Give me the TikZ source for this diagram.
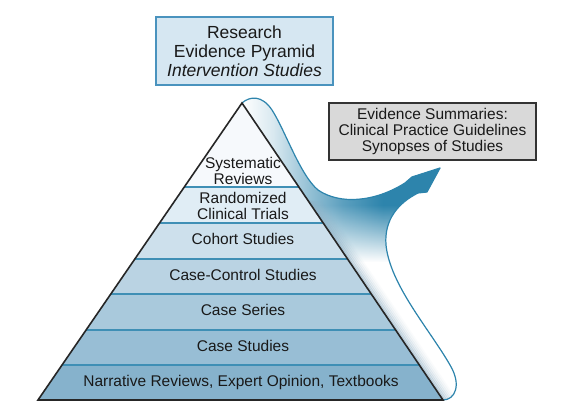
\documentclass[tikz,border=0pt]{standalone}
\usepackage{fontspec}
\setmainfont{Liberation Sans}
\usepackage{tikz}
\usetikzlibrary{calc, fadings}

\definecolor{layA}{HTML}{F6F9FC}
\definecolor{layB}{HTML}{E0EDF5}
\definecolor{layC}{HTML}{CDE0EC}
\definecolor{layD}{HTML}{BAD3E3}
\definecolor{layE}{HTML}{A9C9DC}
\definecolor{layF}{HTML}{98BED5}
\definecolor{layG}{HTML}{86B2CC}
\definecolor{sepblue}{HTML}{3F8FB5}
\definecolor{swoosh}{HTML}{2D84AC}
\definecolor{titlefill}{HTML}{D6E7F2}
\definecolor{titleline}{HTML}{4A93BE}
\definecolor{sumfill}{HTML}{D9D9D9}
\definecolor{shadowblue}{HTML}{8FAFC4}

\pgfdeclarehorizontalshading{curl}{100bp}{color(0bp)=(white); color(25bp)=(white);
  color(32bp)=(swoosh!18); color(40bp)=(swoosh!50); color(48bp)=(swoosh!78);
  color(57bp)=(swoosh); color(100bp)=(swoosh)}

\newcommand{\swooshpath}{(apex) .. controls (250,96) and (262,95) .. (272,110)
  .. controls (285,130) and (300,175) .. (318,190)
  .. controls (340,205) and (375,202) .. (405,183)
  -- (412,177) -- (tip) -- (427,192) -- (418,193)
  .. controls (398,203) and (384,220) .. (386,245)
  .. controls (390,285) and (430,330) .. (450,365)
  .. controls (462,385) and (455,400) .. (br)}

\begin{document}
\begin{tikzpicture}[x=1pt, y=-1pt,
    lbl/.style={font=\fontsize{15.5}{16.5}\selectfont, align=center, text=black!90, inner sep=0pt}]
\useasboundingbox (0,0) rectangle (571,411);
\coordinate (apex) at (242,103);
\coordinate (bl) at (38,400);
\coordinate (br) at (443,400);
\coordinate (tip) at (440,168);

% curl behind the pyramid
\shade[shading=curl] \swooshpath -- cycle;
\begin{scope}
  \clip \swooshpath -- cycle;
  \fill[white, path fading=north] (230,205) rectangle (470,262);
  \fill[white] (230,262) rectangle (470,411);
  \foreach \d/\o in {1/0.45, 3/0.35, 5/0.25, 7/0.18, 9/0.12, 11/0.07, 13/0.04}
    \draw[shadowblue, line width=2.5pt, opacity=\o] ($(apex)!0.33!(br)+(\d,0)$) -- ($(br)+(\d,0)$);
\end{scope}
\fill[swoosh] (405,183) -- (412,177) -- (tip) -- (427,192) -- (418,193) -- cycle;
\draw[swoosh, line width=1.2pt, line join=round] \swooshpath;

% pyramid layers
\foreach \t/\b/\c in {0/0.2828/layA, 0.2828/0.4040/layB, 0.4040/0.5253/layC, 0.5253/0.6431/layD, 0.6431/0.7643/layE, 0.7643/0.8822/layF, 0.8822/1/layG}
  \fill[\c] ($(apex)!\t!(bl)$) -- ($(apex)!\b!(bl)$) -- ($(apex)!\b!(br)$) -- ($(apex)!\t!(br)$) -- cycle;
\foreach \b in {0.2828, 0.4040, 0.5253, 0.6431, 0.7643, 0.8822}
  \draw[sepblue, line width=1.3pt] ($(apex)!\b!(bl)$) -- ($(apex)!\b!(br)$);
\draw[black!85, line width=1.6pt] (apex) -- (bl) -- (br) -- cycle;

\node[lbl] (sys) at (243,171) {Systematic\\Reviews};
\node[lbl] (rct) at (243,206) {Randomized\\Clinical Trials};
\node[lbl, anchor=base] (cohort) at (243,245) {Cohort Studies};
\node[lbl, anchor=base] (casectrl) at (243,280.5) {Case-Control Studies};
\node[lbl, anchor=base] (series) at (243,316) {Case Series};
\node[lbl, anchor=base] (studies) at (243,351.5) {Case Studies};
\node[lbl, anchor=base] (narrative) at (241,387) {Narrative Reviews, Expert Opinion, Textbooks};

\node[draw=titleline, fill=titlefill, line width=1.5pt, minimum width=177pt, minimum height=68pt, inner sep=0pt, align=center, font=\fontsize{17.5}{19}\selectfont, text=black!90] (title) at (244.5,51) {Research\\Evidence Pyramid\\\textit{Intervention Studies}};
\node[draw=black!80, fill=sumfill, line width=1.6pt, minimum width=207pt, minimum height=57pt, inner sep=0pt, align=center, font=\fontsize{15.5}{16}\selectfont, text=black!90] (summary) at (432.5,131.5) {Evidence Summaries:\\Clinical Practice Guidelines\\Synopses of Studies};
\end{tikzpicture}
\end{document}
